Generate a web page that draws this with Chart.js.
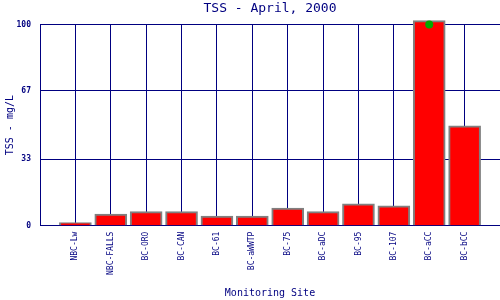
<!DOCTYPE html>
<html>
<head>
<meta charset="utf-8">
<script src="https://cdn.jsdelivr.net/npm/chart.js@4/dist/chart.umd.min.js"></script>
<style>
html,body{margin:0;padding:0;background:#fff;}
#wrap{width:500px;height:300px;}
</style>
</head>
<body>
<div id="wrap"><canvas id="c" width="500" height="300"></canvas></div>
<script>
const categories = ['NBC-Lw','NBC-FALLS','BC-ORO','BC-CAN','BC-61','BC-aWWTP','BC-75','BC-aDC','BC-95','BC-107','BC-aCC','BC-bCC'];
const tssValues = [1.5, 5.8, 7, 7, 4.8, 4.8, 8.8, 7, 10.8, 9.8, 102, 49.6];
const markerSite = 'BC-aCC';
const markerValue = 100;
const yTicks = [0, 33, 67, 100];

const NAVY = '#000080';
const FONT = "'DejaVu Sans Mono', monospace";

const barData = categories.map((c, i) => ({x: i + 1, y: tssValues[i]}));
const markerData = [{x: categories.indexOf(markerSite) + 1, y: markerValue}];

new Chart(document.getElementById('c'), {
  type: 'bar',
  data: {
    datasets: [
      {
        type: 'line',
        data: markerData,
        showLine: false,
        pointRadius: 4,
        pointHoverRadius: 4,
        pointBackgroundColor: '#00aa00',
        pointBorderColor: '#00aa00',
        pointBorderWidth: 0,
        clip: false,
        order: 0
      },
      {
        type: 'bar',
        data: barData,
        backgroundColor: '#ff0000',
        borderColor: '#808080',
        borderWidth: 2,
        barThickness: 32,
        clip: false,
        order: 1
      }
    ]
  },
  options: {
    responsive: false,
    animation: false,
    events: [],
    layout: {autoPadding: false, padding: {left: 0, right: 0, top: 0, bottom: 0}},
    plugins: {
      legend: {display: false},
      tooltip: {enabled: false},
      title: {
        display: true,
        fullSize: false,
        text: 'TSS - April, 2000',
        color: NAVY,
        font: {family: FONT, size: 13, weight: 'normal'},
        padding: {top: 1, bottom: 8}
      }
    },
    scales: {
      x: {
        type: 'linear',
        min: 0,
        max: 13,
        offset: false,
        afterBuildTicks: (s) => { s.ticks = categories.map((c, i) => ({value: i + 1})); },
        afterFit: (s) => { s.paddingRight = 0; s.paddingLeft = 0; },
        ticks: {
          color: NAVY,
          font: {family: FONT, size: 8},
          minRotation: 90,
          maxRotation: 90,
          autoSkip: false,
          padding: 6,
          callback: (v) => categories[v - 1] || ''
        },
        grid: {color: NAVY, lineWidth: 1, drawTicks: false, offset: false},
        border: {color: NAVY, width: 1},
        title: {
          display: true,
          text: 'Monitoring Site',
          color: NAVY,
          font: {family: FONT, size: 10},
          padding: {top: 6, bottom: 1}
        }
      },
      y: {
        min: 0,
        max: 100,
        afterBuildTicks: (s) => { s.ticks = yTicks.map(v => ({value: v})); },
        afterFit: (s) => { s.width = 40; },
        ticks: {
          color: NAVY,
          font: {family: FONT, size: 8, weight: 'bold'},
          padding: 9
        },
        grid: {color: NAVY, lineWidth: 1, drawTicks: false},
        border: {color: NAVY, width: 1},
        title: {
          display: true,
          text: 'TSS - mg/L',
          color: NAVY,
          font: {family: FONT, size: 10},
          padding: {top: 4, bottom: 0}
        }
      }
    }
  }
});
</script>
</body>
</html>
